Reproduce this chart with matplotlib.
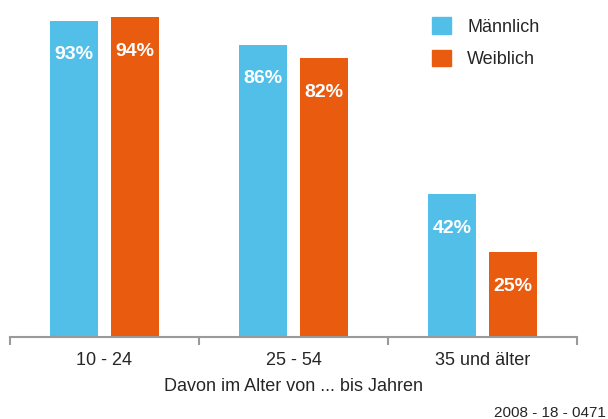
import numpy as np
import matplotlib
matplotlib.use("Agg")
import matplotlib.pyplot as plt
from matplotlib.patches import Patch

plt.rcParams['font.family'] = ['Liberation Sans', 'DejaVu Sans']

categories = ['10 - 24', '25 - 54', '35 und älter']
maennlich = [93, 86, 42]
weiblich = [94, 82, 25]
series_names = ['Männlich', 'Weiblich']
x_label = 'Davon im Alter von ... bis Jahren'
footer = '2008 - 18 - 0471'

blue = '#52BFE8'
orange = '#E95C10'
text_col = '#262626'
axis_col = '#9a9a9a'

fig = plt.figure(figsize=(6.08, 4.19), dpi=100)
ax = fig.add_axes([10 / 608, (419 - 337) / 419, 567 / 608, 337 / 419])

x = np.arange(len(categories))
offset, width = 0.16, 0.255
for vals, dx, col in [(maennlich, -offset, blue), (weiblich, offset, orange)]:
    bars = ax.bar(x + dx, vals, width=width, color=col)
    for b, v in zip(bars, vals):
        ax.annotate(f'{v}%', (b.get_x() + b.get_width() / 2, v),
                    xytext=(0, -24.5), textcoords='offset points',
                    ha='center', va='center', color='white',
                    fontsize=14, fontweight='bold')

ax.set_xlim(-0.5, len(categories) - 0.5)
ax.set_ylim(0, 99.1)

# group boundaries as major ticks, category names on minor ticks
ax.set_xticks(np.arange(len(categories) + 1) - 0.5)
ax.set_xticklabels([])
ax.set_xticks(x, minor=True)
ax.set_xticklabels(categories, minor=True, fontsize=13, color=text_col)
ax.tick_params(axis='x', which='major', direction='out', length=5.5, width=1.5, color=axis_col)
ax.tick_params(axis='x', which='minor', length=0, pad=11)
ax.set_yticks([])
for s in ['top', 'right', 'left']:
    ax.spines[s].set_visible(False)
ax.spines['bottom'].set_color(axis_col)
ax.spines['bottom'].set_linewidth(1.5)
ax.set_xlabel(x_label, fontsize=13, color=text_col, labelpad=6.5)

handles = [Patch(color=blue), Patch(color=orange)]
ax.legend(handles, series_names, loc='upper left',
          bbox_to_anchor=(432 / 608, 1 - 17 / 419), bbox_transform=fig.transFigure,
          frameon=False, fontsize=13, handlelength=1.05, handleheight=1.05,
          handletextpad=0.9, labelspacing=0.78, borderpad=0, borderaxespad=0,
          labelcolor=text_col)

fig.text(606 / 608, 1 - 413 / 419, footer, ha='right', va='center',
         fontsize=11, color=text_col)

fig.savefig('out.png', dpi=100)
